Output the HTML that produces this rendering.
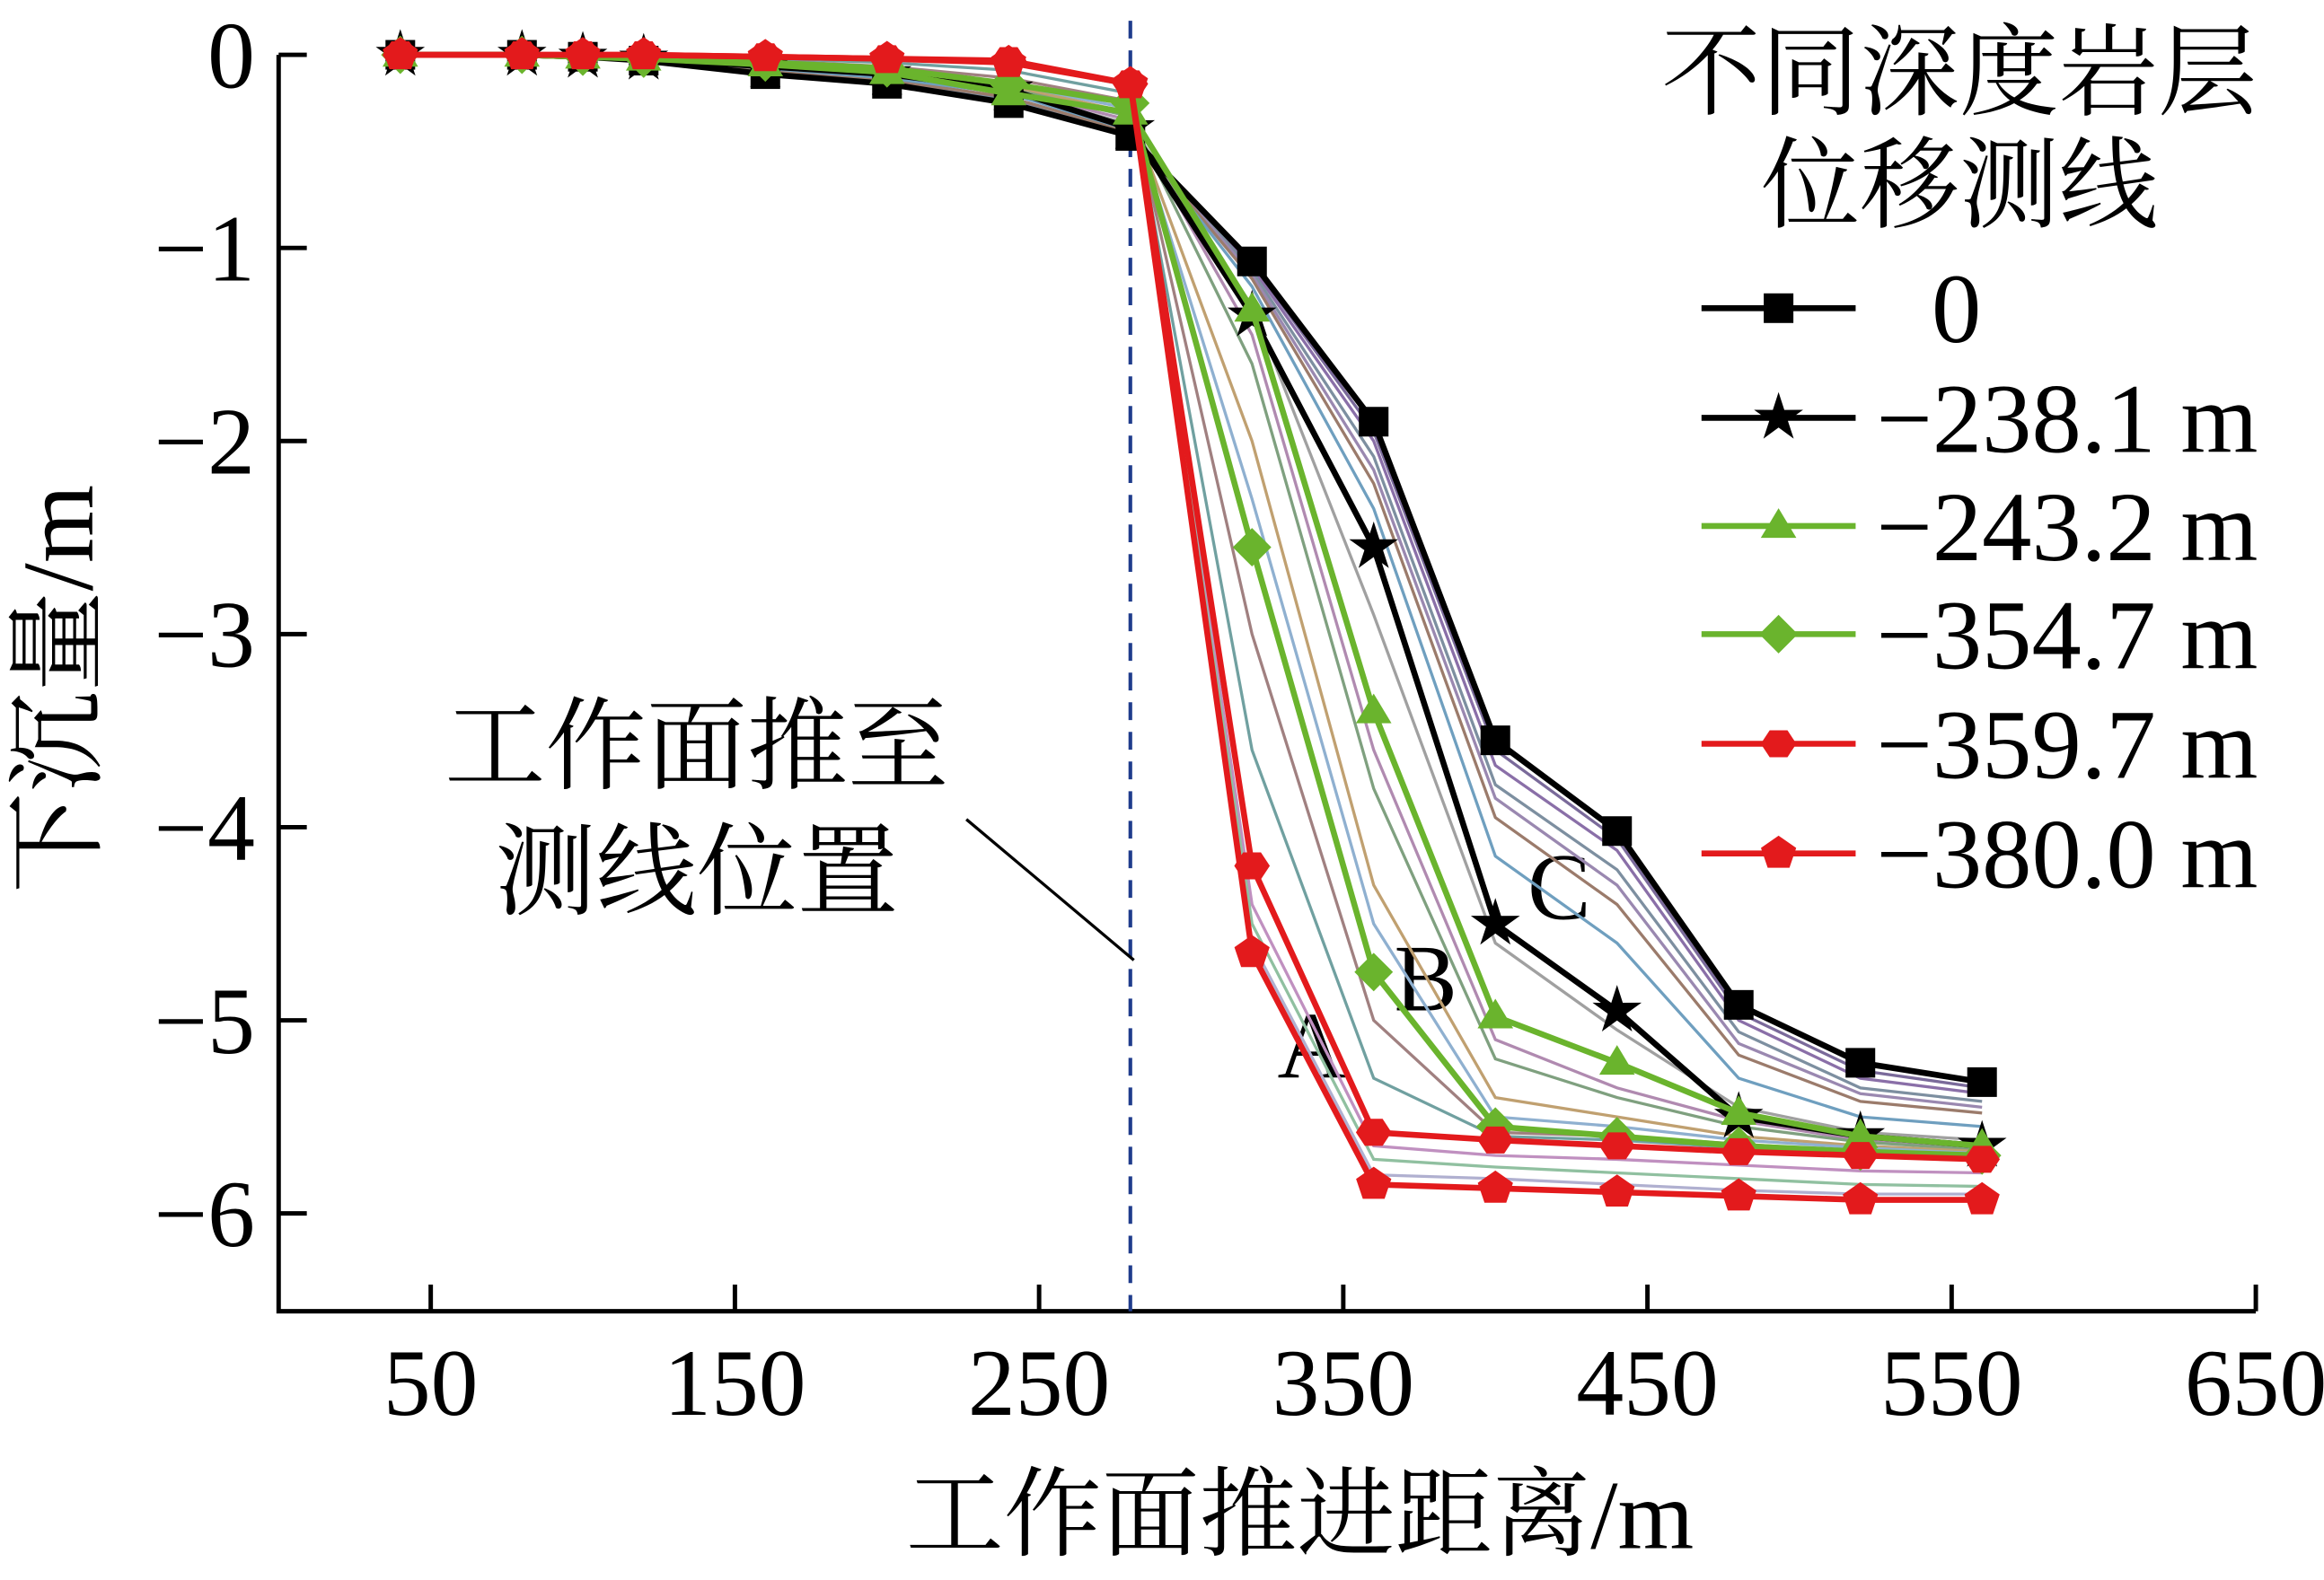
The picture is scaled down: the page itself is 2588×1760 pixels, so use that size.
<!DOCTYPE html>
<html><head><meta charset="utf-8"><style>
html,body{margin:0;padding:0;background:#fff}
svg{display:block}
text{font-family:"Liberation Serif","Noto Serif CJK SC",serif;fill:#000}
</style></head><body>
<svg id="chart" width="2588" height="1760" viewBox="0 0 1568 1066.4" preserveAspectRatio="none" xmlns="http://www.w3.org/2000/svg">
<g id="axes"></g>
<g id="bg"></g>
<g id="main"></g>
<g id="legend"></g>
</svg>
<script>
const xs = [40,80,100,120,160,200,240,280,320,360,400,440,480,520,560];
const xTicks = [50,150,250,350,450,550,650];
const yTicks = [0,-1,-2,-3,-4,-5,-6];
const sSquare = [0,0,-0.01,-0.03,-0.1,-0.15,-0.25,-0.42,-1.07,-1.9,-3.55,-4.02,-4.92,-5.22,-5.32];
const sStar = [0,0,-0.01,-0.02,-0.06,-0.1,-0.18,-0.38,-1.35,-2.55,-4.5,-4.95,-5.5,-5.6,-5.65];
const sTri = [0,0,-0.01,-0.02,-0.05,-0.09,-0.2,-0.3,-1.32,-3.4,-4.98,-5.22,-5.48,-5.6,-5.65];
const sDia = [0,0,-0.01,-0.02,-0.04,-0.07,-0.15,-0.25,-2.55,-4.75,-5.55,-5.6,-5.65,-5.68,-5.7];
const sHex = [0,0,0,0,-0.01,-0.02,-0.03,-0.15,-4.2,-5.58,-5.62,-5.65,-5.68,-5.7,-5.72];
const sPent = [0,0,0,0,-0.01,-0.02,-0.04,-0.15,-4.65,-5.85,-5.87,-5.89,-5.91,-5.93,-5.93];
const bg0 = [0,0,-0.01,-0.03,-0.1,-0.15,-0.25,-0.42,-1.08,-1.95,-3.6,-4.06,-4.96,-5.26,-5.35];
const bg1 = [0,0,-0.01,-0.03,-0.09,-0.14,-0.24,-0.41,-1.1,-2.0,-3.68,-4.12,-5.0,-5.3,-5.38];
const bg2 = [0,0,-0.01,-0.03,-0.09,-0.13,-0.23,-0.4,-1.12,-2.08,-3.78,-4.22,-5.06,-5.35,-5.42];
const bg2b = [0,0,-0.01,-0.03,-0.08,-0.13,-0.22,-0.4,-1.14,-2.15,-3.85,-4.3,-5.12,-5.38,-5.45];
const bg3 = [0,0,-0.01,-0.03,-0.08,-0.13,-0.22,-0.4,-1.16,-2.22,-3.95,-4.4,-5.18,-5.42,-5.48];
const bg4 = [0,0,-0.01,-0.02,-0.07,-0.12,-0.2,-0.39,-1.2,-2.35,-4.15,-4.6,-5.3,-5.5,-5.55];
const bg5 = [0,0,-0.01,-0.02,-0.06,-0.1,-0.19,-0.36,-1.3,-2.9,-4.6,-5.05,-5.45,-5.58,-5.62];
const bg6 = [0,0,-0.01,-0.02,-0.05,-0.09,-0.18,-0.34,-1.45,-3.6,-5.1,-5.35,-5.52,-5.62,-5.66];
const bg7 = [0,0,-0.01,-0.02,-0.05,-0.09,-0.17,-0.32,-1.6,-3.8,-5.2,-5.4,-5.55,-5.63,-5.67];
const bg8 = [0,0,-0.01,-0.02,-0.05,-0.08,-0.16,-0.3,-2.0,-4.3,-5.4,-5.5,-5.6,-5.65,-5.68];
const bg9 = [0,0,-0.01,-0.02,-0.04,-0.08,-0.15,-0.28,-2.3,-4.5,-5.5,-5.55,-5.62,-5.66,-5.69];
const bg10 = [0,0,-0.01,-0.01,-0.03,-0.06,-0.12,-0.24,-3.0,-5.0,-5.58,-5.6,-5.64,-5.68,-5.7];
const bg11 = [0,0,0,-0.01,-0.02,-0.04,-0.08,-0.2,-3.6,-5.3,-5.6,-5.62,-5.66,-5.69,-5.71];
const bg12 = [0,0,0,0,-0.01,-0.02,-0.04,-0.16,-4.4,-5.65,-5.7,-5.72,-5.75,-5.78,-5.79];
const bg13 = [0,0,0,0,-0.01,-0.02,-0.04,-0.16,-4.5,-5.72,-5.76,-5.79,-5.82,-5.85,-5.86];
const bg14 = [0,0,0,0,-0.01,-0.02,-0.04,-0.15,-4.6,-5.8,-5.82,-5.85,-5.88,-5.9,-5.9];
const legendLabels = ["0","−238.1 m","−243.2 m","−354.7 m","−359.7 m","−380.0 m"];

const NS="http://www.w3.org/2000/svg";
const L=188,R=1522,B=885;
function sx(v){return L+v*(R-L)/650;}
function sy(v){return 37+(-v)*130.33;}
function mk(tag,attrs,parent){const e=document.createElementNS(NS,tag);for(const k in attrs)e.setAttribute(k,attrs[k]);parent.appendChild(e);return e;}
const axes=document.getElementById('axes');
let e;
e=mk('path',{d:`M${L},37 L${L},${B} L${R},${B}`,fill:'none',stroke:'#000','stroke-width':3},axes);


e=mk('line',{x1:sx(280),x2:sx(280),y1:14,y2:B,stroke:'#1f3c8c','stroke-width':2.5,'stroke-dasharray':'12,8'},axes);


xTicks.forEach(t=>{
  let l=mk('line',{x1:sx(t),x2:sx(t),y1:B,y2:B-18,stroke:'#000','stroke-width':3},axes);
  
  
  let tx=mk('text',{x:sx(t),y:B+70,'text-anchor':'middle','font-size':64},axes);tx.textContent=t;
  
  
});
yTicks.forEach(t=>{
  let l=mk('line',{x1:L,x2:L+19,y1:sy(t),y2:sy(t),stroke:'#000','stroke-width':3},axes);
  
  
  let tx=mk('text',{x:172,y:sy(t)+22,'text-anchor':'end','font-size':64},axes);tx.textContent=t===0?'0':'−'+(-t);
  
  
});
e=mk('text',{x:877,y:1045,'text-anchor':'middle','font-size':66},axes);e.textContent='工作面推进距离/m';


e=mk('text',{x:0,y:0,'text-anchor':'middle','font-size':68,transform:'translate(62,465) rotate(-90)'},axes);e.textContent='下沉量/m';


e=mk('text',{x:470,y:527,'text-anchor':'middle','font-size':68},axes);e.textContent='工作面推至';


e=mk('text',{x:470,y:612,'text-anchor':'middle','font-size':68},axes);e.textContent='测线位置';


e=mk('line',{x1:652,y1:553,x2:765,y2:648,stroke:'#000','stroke-width':2},axes);


[['A',885,727],['B',962,682],['C',1052,620]].forEach(a=>{
  let t=mk('text',{x:a[1],y:a[2],'text-anchor':'middle','font-size':64},axes);t.textContent=a[0];
  
  
});

function pts(arr){return arr.map((v,i)=>sx(xs[i])+','+sy(v)).join(' ');}
const bgSeries=[bg0,bg1,bg2,bg2b,bg3,bg4,bg5,bg6,bg7,bg8,bg9,bg10,bg11,bg12,bg13,bg14];
const bgColors=['#7a6a9a','#8a6fa8','#7d8fa0','#9a88b0','#9b7b6b','#6f9fbf','#a0a0a0','#b08ab0','#7fa07f','#c0a070','#8fb0d0','#a08080','#70a0a0','#c090c0','#90c0a0','#b0b0d0'];
const bgG=document.getElementById('bg');
bgSeries.forEach((s,i)=>{
  let p=mk('polyline',{points:pts(s),fill:'none',stroke:bgColors[i],'stroke-width':2},bgG);
  
  
});

const GREEN='#6ab42d',RED='#e31a1c';
function marker(type,x,y,color,parent,r){
  let g;
  if(type==='square') g=mk('rect',{x:x-r,y:y-r,width:2*r,height:2*r,fill:color},parent);
  else {
    let p=[];
    if(type==='star'){for(let k=0;k<10;k++){let a=-Math.PI/2+k*Math.PI/5,rr=k%2?r*0.55:r*1.45;p.push((x+rr*Math.cos(a))+','+(y+rr*Math.sin(a)));}}
    else if(type==='tri'){p=[x+','+(y-r*1.2),(x+r*1.2)+','+(y+r*0.8),(x-r*1.2)+','+(y+r*0.8)];}
    else if(type==='dia'){p=[x+','+(y-r*1.3),(x+r*1.3)+','+y,x+','+(y+r*1.3),(x-r*1.3)+','+y];}
    else if(type==='hex'){for(let k=0;k<6;k++){let a=k*Math.PI/3;p.push((x+r*1.2*Math.cos(a))+','+(y+r*1.05*Math.sin(a)));}}
    else if(type==='pent'){for(let k=0;k<5;k++){let a=-Math.PI/2+k*2*Math.PI/5;p.push((x+r*1.25*Math.cos(a))+','+(y+r*1.2*Math.sin(a)));}}
    g=mk('polygon',{points:p.join(' '),fill:color},parent);
  }
  return g;
}
const mainSeries=[[sSquare,'#000','square'],[sStar,'#000','star'],[sTri,GREEN,'tri'],[sDia,GREEN,'dia'],[sHex,RED,'hex'],[sPent,RED,'pent']];
const mainG=document.getElementById('main');
mainSeries.forEach((m,i)=>{
  let p=mk('polyline',{points:pts(m[0]),fill:'none',stroke:m[1],'stroke-width':4},mainG);
  
  
  m[0].forEach((v,j)=>{
    let k=marker(m[2],sx(xs[j]),sy(v),m[1],mainG,m[2]==='star'?12:10);
    
    
  });
});
const lg=document.getElementById('legend');
e=mk('text',{x:1322,y:72,'text-anchor':'middle','font-size':67},lg);e.textContent='不同深度岩层';


e=mk('text',{x:1322,y:148,'text-anchor':'middle','font-size':67},lg);e.textContent='位移测线';


const lgY=[208,282,355,428,502,576];
mainSeries.forEach((m,i)=>{
  let y=lgY[i];
  let l=mk('line',{x1:1148,x2:1252,y1:y,y2:y,stroke:m[1],'stroke-width':4},lg);
  
  
  let k=marker(m[2],1200,y,m[1],lg,m[2]==='star'?12:10);
  
  
  let t=mk('text',{x:i===0?1320:1266,y:y+23,'text-anchor':i===0?'middle':'start','font-size':67},lg);t.textContent=legendLabels[i];
  
  
});
</script>
</body></html>
